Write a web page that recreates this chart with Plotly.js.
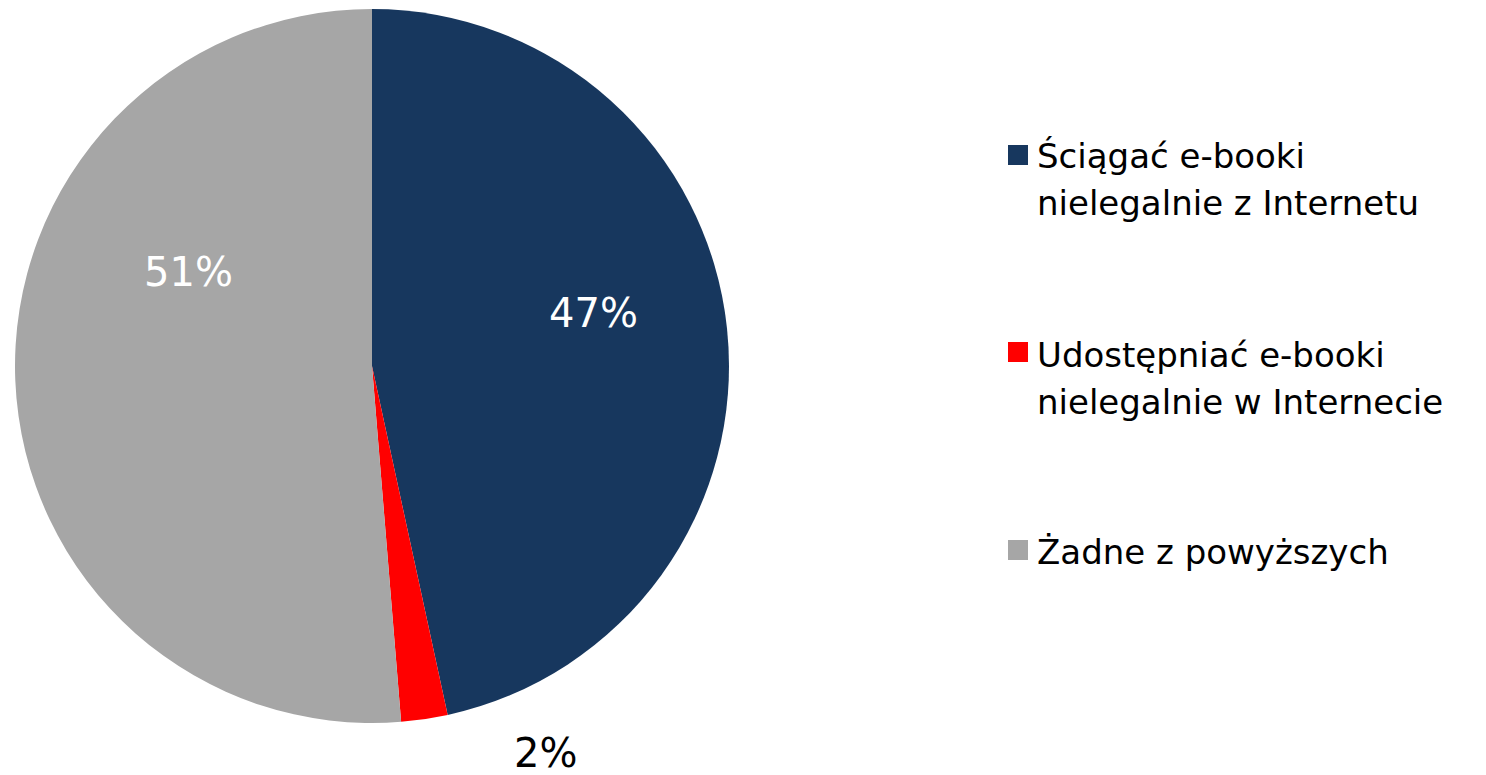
<!DOCTYPE html>
<html>
<head>
<meta charset="utf-8">
<script src="https://cdn.plot.ly/plotly-3.0.1.min.js"></script>
<style>html,body{margin:0;padding:0;background:#fff;}#chart{width:1486px;height:775px;}</style>
</head>
<body>
<div id="chart"></div>
<script>
// ---- data ----
const categories = [
  "Ściągać e-booki nielegalnie z Internetu",
  "Udostępniać e-booki nielegalnie w Internecie",
  "Żadne z powyższych"
];
const legendLines = [
  ["Ściągać e-booki", "nielegalnie z Internetu"],
  ["Udostępniać e-booki", "nielegalnie w Internecie"],
  ["Żadne z powyższych"]
];
const values = [46.6, 2.1, 51.3];
const colors = ["#17375E", "#FF0000", "#A6A6A6"];
const labelColors = ["#FFFFFF", "#000000", "#FFFFFF"];

// ---- layout helpers (pixel -> paper) ----
const W = 1486, H = 775;
const M = {l: 15, r: 0, t: 9, b: 52};
const pw = W - M.l - M.r, ph = H - M.t - M.b;
const px = x => (x - M.l) / pw;
const py = y => (H - M.b - y) / ph;

const FONT = "DejaVu Sans, Liberation Sans, sans-serif";
const total = values.reduce((a, b) => a + b, 0);

const trace = {
  type: "pie",
  labels: categories,
  values: values,
  sort: false,
  direction: "clockwise",
  rotation: 0,
  textinfo: "none",
  hoverinfo: "label+percent",
  marker: {colors: colors, line: {width: 0}},
  domain: {x: [0, 714 / pw], y: [0, 1]},
  showlegend: false
};

// percentage labels (positions are layout, text from data)
const labelPos = [[593, 313], [545, 753], [188, 272]];
const annotations = values.map((v, i) => ({
  xref: "paper", yref: "paper",
  x: px(labelPos[i][0]), y: py(labelPos[i][1]),
  xanchor: "center", yanchor: "middle",
  text: Math.round(v / total * 100) + "%",
  showarrow: false,
  font: {family: FONT, size: 40, color: labelColors[i]}
}));

// manual legend
const firstLineY = [156, 355, 552];
const lineGap = 47;
const squareY = [155, 352, 550];
const shapes = [];
legendLines.forEach((lines, i) => {
  lines.forEach((ln, j) => {
    annotations.push({
      xref: "paper", yref: "paper",
      x: px(1035), y: py(firstLineY[i] + j * lineGap),
      xanchor: "left", yanchor: "middle", align: "left",
      text: ln,
      showarrow: false,
      font: {family: FONT, size: 34, color: "#000000"}
    });
  });
  shapes.push({
    type: "rect", xref: "paper", yref: "paper",
    x0: px(1008), x1: px(1028),
    y0: py(squareY[i] - 10), y1: py(squareY[i] + 10),
    fillcolor: colors[i], line: {width: 0}
  });
});

const layout = {
  width: W, height: H,
  margin: M,
  paper_bgcolor: "#FFFFFF",
  plot_bgcolor: "#FFFFFF",
  showlegend: false,
  annotations: annotations,
  shapes: shapes,
  font: {family: FONT}
};

Plotly.newPlot("chart", [trace], layout, {displayModeBar: false, staticPlot: true});
</script>
</body>
</html>
